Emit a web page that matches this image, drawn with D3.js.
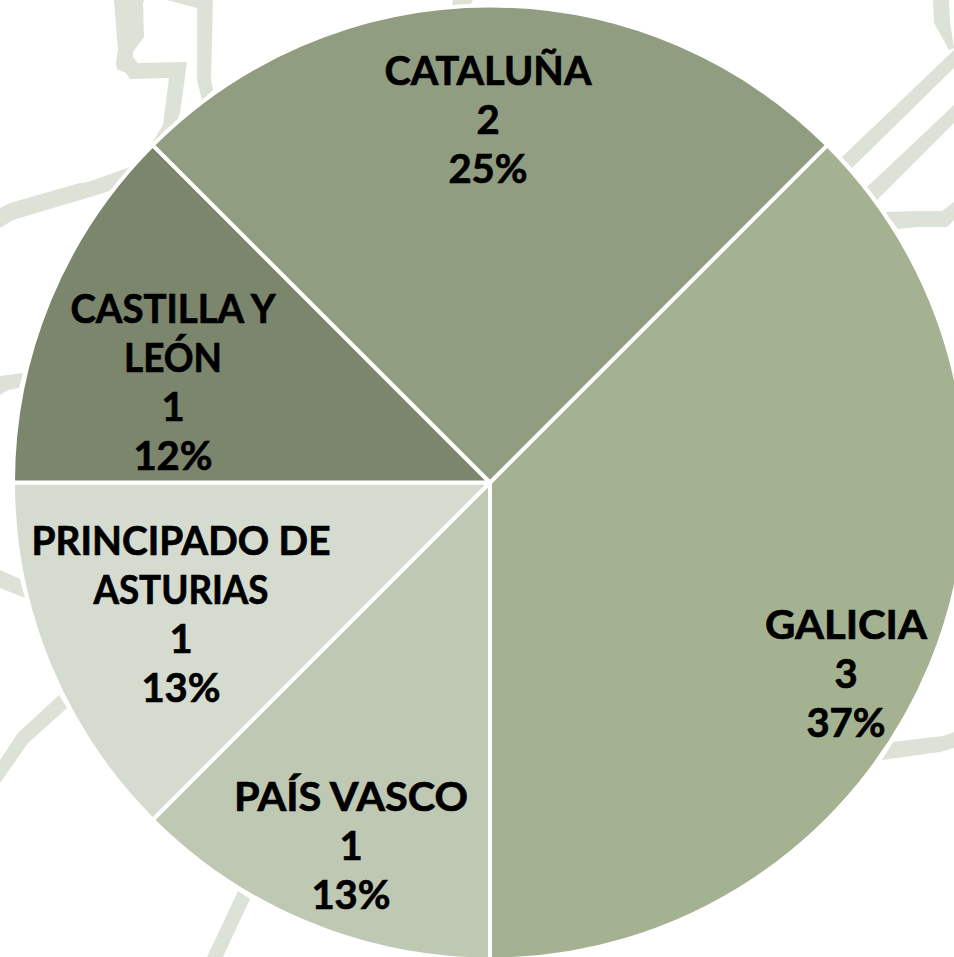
<!DOCTYPE html>
<html><head><meta charset="utf-8">
<script src="https://cdn.jsdelivr.net/npm/d3@7"></script>
<style>html,body{margin:0;padding:0;background:#fff;overflow:hidden}svg{display:block}</style>
</head><body><div id="c"></div>
<script>
const categories = ["GALICIA","PAÍS VASCO","PRINCIPADO DE ASTURIAS","CASTILLA Y LEÓN","CATALUÑA"];
const values = [3,1,1,1,2];
const percentLabels = ["37%","13%","13%","12%","25%"];
const colors = ["#a5b292","#bfc8b3","#d5dbcf","#7c866d","#919d80"];
const labelLines = [["GALICIA"],["PAÍS VASCO"],["PRINCIPADO DE","ASTURIAS"],["CASTILLA Y","LEÓN"],["CATALUÑA"]];
// label anchor: centre x and first baseline, as placed in the reference
const labelAnchors = [[846,639],[351,811],[181,555],[173,323],[488,85]];
// measured pixel width of each category line in the reference
const labelWidths = [[162],[234],[299,175],[205,98],[207]];

// decorative backdrop (map outline fragments behind the pie)
const backdrop = [
 [[114,0],[118,50],[116,62],[117,69],[126,73],[130,79],[169,78],[163,125],[152,143],[175,125],[180,113],[187,62],[138,63],[133,57],[133,52],[144,37],[143,3],[144,0]],
 [[167,0],[197,8],[197,80],[202,100],[213,90],[211,80],[213,0]],
 [[0,208],[10,203],[80,183],[88,182],[130,167],[112,190],[97,195],[13,220],[0,228]],
 [[0,376],[23,373],[19,388],[8,390],[0,395]],
 [[0,570],[20,579],[25,598],[0,588]],
 [[59,695],[18,733],[0,760],[0,783],[28,743],[67,708]],
 [[238,891],[250,899],[223,957],[207,957]],
 [[933,0],[934,23],[949,50],[954,48],[950,22],[949,0]],
 [[842,157],[954,50],[954,68],[852,168]],
 [[867,187],[954,105],[954,123],[877,200]],
 [[885,212],[917,211],[942,211],[954,202],[954,220],[947,227],[917,227],[898,229]],
 [[893,742],[943,736],[954,732],[954,748],[940,752],[882,760]],
 [[453,0],[473,0],[470,5],[452,5]]
];

const W=954,H=957,cx=490,cy=482.5,R=477;
const svg=d3.select("#c").append("svg").attr("width",W).attr("height",H).attr("viewBox",[0,0,W,H]);
svg.append("g").selectAll("polygon").data(backdrop).join("polygon")
  .attr("points",d=>d.map(p=>p.join(",")).join(" ")).attr("fill","#dde2d6");

const pie=d3.pie().sort(null).value(d=>d).startAngle(Math.PI/4).endAngle(Math.PI/4+2*Math.PI);
const arc=d3.arc().innerRadius(0).outerRadius(R);
svg.append("g").attr("transform",`translate(${cx},${cy})`).selectAll("path").data(pie(values)).join("path")
  .attr("d",arc).attr("fill",(d,i)=>colors[i]).attr("stroke","#fff").attr("stroke-width",4).attr("stroke-linejoin","round");

const lh=49;
const g=svg.append("g").attr("font-family","Lato, sans-serif").attr("font-weight",700).attr("font-size",40).attr("fill","#000").attr("stroke","#000").attr("stroke-width",0.7).attr("text-anchor","middle");
categories.forEach((c,i)=>{
  const lines=[...labelLines[i],String(values[i]),percentLabels[i]];
  const [x,y]=labelAnchors[i];
  lines.forEach((t,k)=>{
    const s=g.append("text").attr("x",x).attr("y",y+k*lh).text(t);
    const w=labelWidths[i][k];
    if(w) s.attr("textLength",w).attr("lengthAdjust","spacingAndGlyphs");
  });
});
</script></body></html>
